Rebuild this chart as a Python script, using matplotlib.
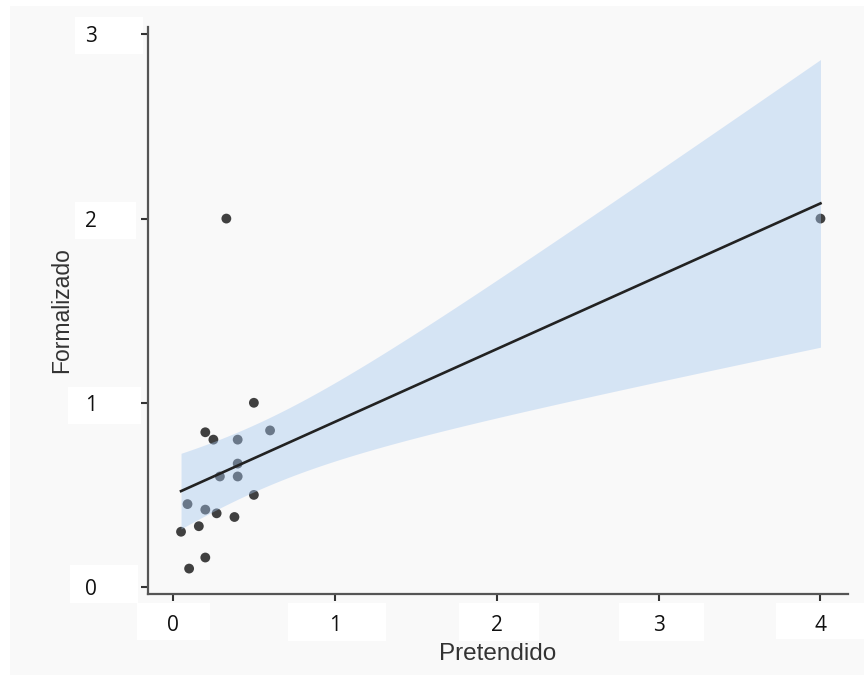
import numpy as np
import matplotlib
matplotlib.use("Agg")
import matplotlib.pyplot as plt
from matplotlib.patches import Rectangle

# Data
pretendido = [0.50, 0.20, 0.25, 0.40, 0.60, 0.40, 0.29, 0.40, 0.50, 0.09,
              0.20, 0.27, 0.38, 0.16, 0.05, 0.20, 0.10, 0.33, 4.00]
formalizado = [1.00, 0.84, 0.80, 0.80, 0.85, 0.67, 0.60, 0.60, 0.50, 0.45,
               0.42, 0.40, 0.38, 0.33, 0.30, 0.16, 0.10, 2.00, 2.00]
xticks = [0, 1, 2, 3, 4]
yticks = [0, 1, 2, 3]

x = np.array(pretendido)
y = np.array(formalizado)
n = len(x)
slope, intercept = np.polyfit(x, y, 1)
resid = y - (intercept + slope * x)
s = np.sqrt(np.sum(resid ** 2) / (n - 2))
z_crit = 1.96  # 95% confidence
xs = np.linspace(x.min(), x.max(), 200)
fit = intercept + slope * xs
se = s * np.sqrt(1.0 / n + (xs - x.mean()) ** 2 / np.sum((x - x.mean()) ** 2))
lo, hi = fit - z_crit * se, fit + z_crit * se

fig = plt.figure(figsize=(8.64, 6.75), dpi=100, facecolor="white")
fig.patches.append(Rectangle((10, 0), 854, 669, transform=None,
                             facecolor="#f9f9f9", edgecolor="none", zorder=-10))
ax = fig.add_axes([148 / 864, 81 / 675, 700 / 864, 567 / 675])
ax.set_facecolor("#f9f9f9")

ax.scatter(x, y, s=50, color="#404040", edgecolors="none", zorder=2)
ax.fill_between(xs, lo, hi, color="#a5c7ef", alpha=0.42, linewidth=0, zorder=3)
ax.plot(xs, fit, color="#222222", linewidth=1.9, zorder=4)

ax.set_xlim(-0.154, 4.17)
ax.set_ylim(-0.038, 3.04)
ax.set_xticks(xticks)
ax.set_yticks(yticks)
ax.set_xticklabels([str(v) for v in xticks], family="Open Sans", fontsize=15, color="#111111")
ax.set_yticklabels([str(v) for v in yticks], family="Open Sans", fontsize=15, color="#111111")
ax.tick_params(axis="x", length=5, width=1.5, color="#333333", pad=10)
ax.tick_params(axis="y", length=5, width=1.5, color="#333333", pad=32)

for side in ["top", "right"]:
    ax.spines[side].set_visible(False)
for side in ["left", "bottom"]:
    ax.spines[side].set_color("#555555")
    ax.spines[side].set_linewidth(1.6)

ax.set_xlabel("Pretendido", family="Liberation Sans", fontsize=17.5, color="#333333", labelpad=5)
ax.set_ylabel("Formalizado", family="Liberation Sans", fontsize=16.5, color="#333333", labelpad=8)

# white boxes behind tick labels (as in the reference)
boxes = [(75, 675 - 54, 68, 37), (75, 675 - 239, 61, 37), (68, 675 - 424, 73, 37),
         (70, 675 - 603, 68, 38), (137, 675 - 640, 73, 37), (288, 675 - 641, 98, 38),
         (459, 675 - 641, 80, 38), (619, 675 - 641, 85, 38), (776, 675 - 639, 88, 36)]
for bx, by, bw, bh in boxes:
    fig.patches.append(Rectangle((bx, by), bw, bh, transform=None,
                                 facecolor="white", edgecolor="none", zorder=-5))

fig.savefig("out.png", dpi=100, facecolor=fig.get_facecolor())
